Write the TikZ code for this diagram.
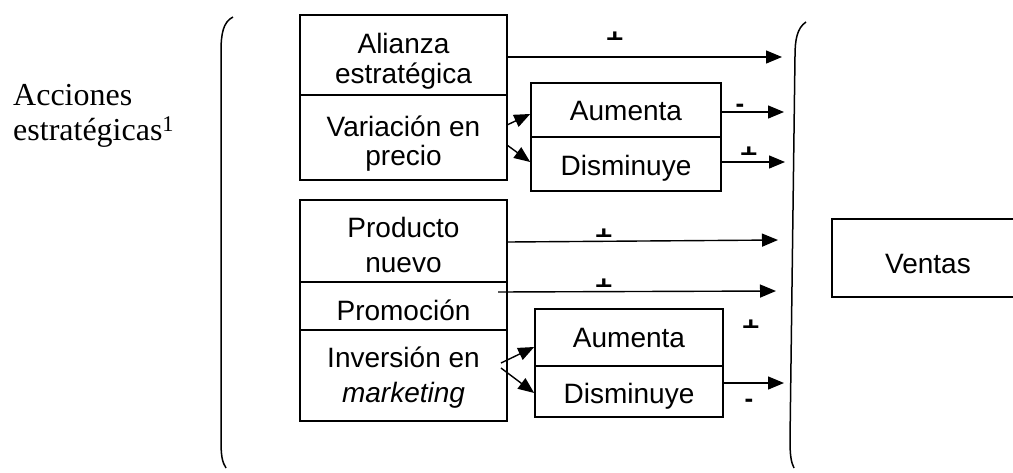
\documentclass[tikz,border=0pt]{standalone}
\usepackage{fontspec}
\setmainfont{Liberation Serif}
\setsansfont{Liberation Sans}
\usetikzlibrary{arrows.meta}
% a "+" whose lower half is cut away, as the picture prints it
\newcommand{\cutplus}[3]{%
	\begin{scope}
		\clip (#2-15,#3-16) rectangle (#2+15,#3+1.5);
		\node[sgn,font=\sffamily\bfseries\fontsize{30}{30}\selectfont] (#1) at (#2,#3+2.4) {+};
	\end{scope}}
\begin{document}
\begin{tikzpicture}[x=1pt,y=-1pt,
	box/.style={draw,line width=1.6pt,inner sep=0pt,align=center,text depth=0pt,
		font=\sffamily\fontsize{28}{30}\selectfont},
	lift/.style={text height=#1},
	arr/.style={line width=1.4pt,-{Triangle[length=16pt,width=13pt]}},
	sgn/.style={inner sep=0pt,font=\sffamily\bfseries\fontsize{26}{26}\selectfont}]
	\useasboundingbox (0,0) rectangle (1013,472);
	
	\node[anchor=north west,inner sep=0pt,align=left,
		font=\fontsize{32}{35}\selectfont] (acc) at (13,84) {Acciones\\estratégicas\textsuperscript{1}};
	
	% left and right brackets
	\draw[line width=1.5pt] (233,17) .. controls (223,22) and (221,34) .. (221,52) -- (221,440) .. controls (221,455) and (222,462) .. (226,468);
	\draw[line width=1.5pt] (806,22) .. controls (797,28) and (795,40) .. (795,56) -- (790,440) .. controls (790,455) and (791,462) .. (794,468);
	
	% boxes
	\node[box,lift=56pt,minimum width=207pt,minimum height=80pt] (ali) at (403.5,55) {Alianza\\estratégica};
	\node[box,lift=55pt,font=\sffamily\fontsize{28}{29}\selectfont,
		minimum width=207pt,minimum height=85pt] (var) at (403.5,137.5) {Variación en\\precio};
	\node[box,lift=20pt,minimum width=190pt,minimum height=54pt] (au1) at (626,110) {Aumenta};
	\node[box,lift=22pt,minimum width=190pt,minimum height=54pt] (dis1) at (626,164) {Disminuye};
	\node[box,lift=62pt,font=\sffamily\fontsize{28}{35}\selectfont,
		minimum width=207pt,minimum height=82pt] (pro) at (403.5,241) {Producto\\nuevo};
	\node[box,lift=28pt,minimum width=207pt,minimum height=48pt] (prom) at (403.5,306) {Promoción};
	\node[box,lift=53pt,font=\sffamily\fontsize{28}{35}\selectfont,
		minimum width=207pt,minimum height=91pt] (inv) at (403.5,375.5) {Inversión en\\\textit{marketing}};
	\node[box,lift=19pt,minimum width=188pt,minimum height=57pt] (au2) at (629,337.5) {Aumenta};
	\node[box,lift=23pt,minimum width=188pt,minimum height=51pt] (dis2) at (629,391.5) {Disminuye};
	\node[box,lift=30pt,minimum width=192pt,minimum height=78pt] (ven) at (928,258) {Ventas};
	
	% free ends at the right bracket
	\coordinate (e1) at (782,57);
	\coordinate (e2) at (784,112);
	\coordinate (e3) at (785,162);
	\coordinate (e4) at (778,240);
	\coordinate (e5) at (776,291);
	\coordinate (e6) at (784,383);
	\coordinate (s5) at (498,292);
	\coordinate (v1) at (507,125);
	\coordinate (v2) at (507,145);
	\coordinate (i1) at (501,363);
	\coordinate (i2) at (501,368);
	
	% arrows
	\draw[arr] (ali.east |- e1) -- (e1);
	\draw[arr] (au1.east |- e2) -- (e2);
	\draw[arr] (dis1.east |- e3) -- (e3);
	\draw[arr] (pro.east |- 0,242) -- (e4);
	\draw[arr] (s5) -- (e5);
	\draw[arr] (dis2.east |- e6) -- (e6);
	\draw[arr] (v1) -- (au1.west |- 0,114);
	\draw[arr] (v2) -- (dis1.west |- 0,162);
	\draw[arr] (i1) -- (au2.west |- 0,347);
	\draw[arr] (i2) -- (dis2.west |- 0,393);
	
	% signs
	\cutplus{m1}{615}{38}
	\node[sgn] (m2) at (740,108.5) {-};
	\cutplus{m3}{749}{153}
	\cutplus{m4}{604}{235}
	\cutplus{m5}{604}{285}
	\cutplus{m6}{751}{326}
	\node[sgn] (m7) at (749,403.5) {-};
\end{tikzpicture}
\end{document}
